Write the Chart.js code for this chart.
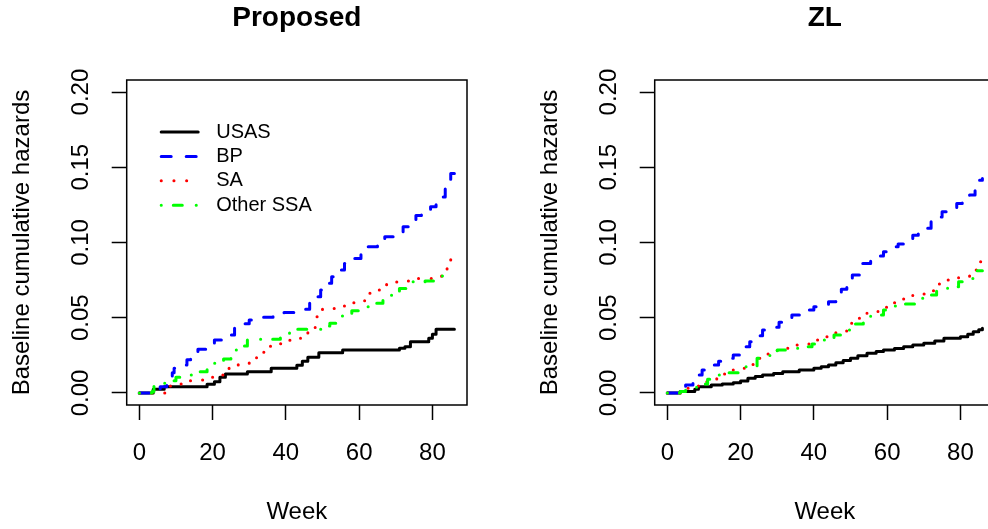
<!DOCTYPE html>
<html>
<head>
<meta charset="utf-8">
<script src="https://cdn.jsdelivr.net/npm/chart.js@4.4.1/dist/chart.umd.min.js"></script>
<style>
  html, body { margin: 0; padding: 0; background: #fff; overflow: hidden; }
  .panel { position: absolute; top: 0; width: 528px; height: 529px; }
</style>
</head>
<body>
<div class="panel" style="left:0"><canvas id="proposed" width="528" height="529"></canvas></div>
<div class="panel" style="left:528px"><canvas id="zl" width="528" height="529"></canvas></div>
<script>
// axis ticks
const weekTicks = [0, 20, 40, 60, 80];
const hazardTicks = [0, 0.05, 0.1, 0.15, 0.2];
const seriesNames = ["USAS", "BP", "SA", "Other SSA"];

// Proposed estimator: [week, cumulative hazard] at each jump
const propUSAS = [[0,0],[3.8,0.0025],[6.8,0.0042],[18.5,0.0058],[20.5,0.0075],[22,0.0104],[23.5,0.0126],
  [29.5,0.0141],[36,0.0164],[43,0.0185],[44.5,0.021],[46,0.0237],[49,0.0268],[55.5,0.0286],[71,0.0297],
  [72.5,0.0307],[74,0.034],[79,0.0363],[80,0.039],[81,0.0423],[86,0.0423]];
const propBP = [[0,0],[4,0.0025],[5.7,0.0042],[7.5,0.0068],[8,0.01],[9,0.0135],[9.5,0.0164],[11.5,0.0186],
  [13,0.022],[14,0.0252],[16,0.029],[19,0.0307],[20.5,0.0352],[23,0.037],[24.5,0.0385],[26,0.0436],[28,0.046],
  [30,0.0485],[32,0.0503],[36.5,0.0518],[39.5,0.0535],[42.5,0.0556],[46.5,0.06],[48,0.064],[49.5,0.0684],
  [51,0.073],[52.5,0.0772],[53.5,0.0817],[56,0.0861],[58,0.0894],[60.5,0.0971],[65,0.1],[67,0.1038],[70,0.107],
  [72,0.1104],[73.5,0.1149],[75.5,0.118],[77,0.1215],[79.5,0.1237],[81,0.127],[82,0.1303],[83.5,0.137],
  [84.5,0.142],[85,0.1459],[86,0.1459]];
const propSA = [[0,0],[8.5,0.006],[11.5,0.0082],[15,0.0086],[18,0.0104],[21,0.012],[23.5,0.015],[24.5,0.0171],
  [27,0.0197],[30,0.0214],[32,0.027],[35,0.031],[38,0.0327],[41,0.035],[44,0.0378],[46,0.0432],[48,0.0507],
  [50,0.0562],[53.5,0.0578],[56,0.06],[61.5,0.0662],[65,0.0684],[67.5,0.0737],[71,0.0744],[74,0.0761],
  [82.5,0.0812],[84,0.085],[85,0.089],[86,0.089]];
const propSSA = [[0,0],[3.5,0.0009],[4,0.0064],[7,0.0082],[10,0.0104],[12,0.012],[15.5,0.0141],[18.5,0.0164],
  [20,0.0197],[23,0.0226],[25,0.0286],[27.5,0.0312],[29.5,0.0357],[38.5,0.038],[41,0.0414],[43,0.0423],
  [50.5,0.0445],[52,0.0463],[54,0.0511],[58,0.0546],[60,0.0573],[63,0.0596],[66.5,0.0618],[68,0.065],
  [69,0.0673],[71,0.0695],[73,0.0739],[78,0.0744],[81.5,0.0777],[86,0.0777]];

// ZL estimator
const zlUSAS = [[0,0],[3.5,0.001],[7.5,0.0025],[8.5,0.0042],[12,0.0053],[15,0.006],[18,0.0068],[20,0.008],
  [22,0.0098],[24,0.011],[26,0.012],[29,0.013],[31.5,0.0141],[36,0.0153],[40,0.0164],[42,0.0175],[44,0.0186],
  [46,0.02],[48,0.0215],[50,0.023],[52,0.0248],[54.5,0.0264],[57,0.0275],[59,0.0286],[62,0.0296],[64.5,0.0307],
  [67,0.0318],[70,0.033],[73,0.0345],[75.5,0.0363],[80,0.0374],[82,0.039],[83.5,0.0407],[85,0.042],[86,0.043]];
const zlBP = [[0,0],[3.5,0.002],[5,0.0053],[7,0.0075],[8.5,0.012],[9.5,0.0153],[12,0.0186],[14,0.021],
  [15.5,0.023],[18,0.0252],[20,0.028],[21.5,0.0307],[22.5,0.034],[24.5,0.038],[26,0.0418],[28.5,0.0436],
  [30.5,0.047],[32,0.0496],[34,0.0518],[36.5,0.053],[38.5,0.0551],[40,0.0573],[42,0.059],[44,0.0606],
  [46,0.0651],[47.5,0.069],[49,0.0739],[50.5,0.0784],[52.5,0.0861],[55.5,0.0883],[57.5,0.091],[59,0.0938],
  [61,0.0971],[63,0.099],[65,0.1016],[67,0.1049],[68.5,0.107],[70,0.1094],[72,0.1138],[73.5,0.117],
  [75,0.1204],[77.5,0.1226],[79,0.126],[80.5,0.1293],[82.5,0.1315],[84,0.137],[85,0.1414],[86,0.1426]];
const zlSA = [[0,0],[3.5,0.001],[5.5,0.0031],[8.5,0.0075],[11.5,0.0091],[13.5,0.012],[15,0.0126],[18,0.0153],
  [21,0.019],[24,0.023],[27,0.0259],[30,0.0297],[33,0.0319],[36,0.0325],[39.5,0.0352],[43,0.0374],[46,0.0412],
  [49,0.0463],[51.5,0.0496],[54.5,0.0536],[57.5,0.0569],[61,0.06],[64,0.0624],[67,0.0657],[70.5,0.0679],
  [73,0.0724],[76.5,0.075],[79.5,0.0772],[82.5,0.0817],[85,0.0872],[86,0.0872]];
const zlSSA = [[0,0],[3.5,0.001],[5,0.0031],[8,0.006],[11,0.0091],[13.5,0.012],[16.5,0.0135],[19.5,0.0164],
  [21.5,0.0179],[24.5,0.023],[28,0.0252],[30,0.0286],[34,0.0297],[36.5,0.0307],[39.5,0.0325],[42.5,0.0352],
  [45.5,0.0385],[48,0.0418],[50.5,0.0458],[53.5,0.0496],[55.5,0.0518],[59,0.0551],[62,0.0578],[65,0.0591],
  [67.5,0.0629],[70.5,0.0651],[73.5,0.0684],[76.5,0.0706],[79.5,0.0739],[82,0.0761],[84.5,0.0812],[86,0.0812]];

// line styles (R lty 1-4)
const lineColors = ["#000000", "#0000ff", "#ff0000", "#00ff00"];
const lineDashes = [[], [10, 15], [0.1, 12.6], [0.1, 12, 9, 13.9]];

const FONT = '"Liberation Sans", Arial, Helvetica, sans-serif';
Chart.defaults.font.family = FONT;
Chart.defaults.color = "#000";

// R style box around the plot region
const boxPlugin = {
  id: "box",
  afterDraw(chart) {
    const { ctx, chartArea: a } = chart;
    ctx.save();
    ctx.strokeStyle = "#000";
    ctx.lineWidth = 1.5;
    ctx.strokeRect(a.left, a.top, a.right - a.left, a.bottom - a.top);
    ctx.restore();
  }
};

// legend inside the plot, no frame
const insetLegend = {
  id: "insetLegend",
  afterDraw(chart, args, opts) {
    if (!opts.show) return;
    const { ctx, chartArea } = chart;
    const x0 = chartArea.left + 34.5, y0 = chartArea.top + 52;
    chart.data.datasets.forEach((ds, i) => {
      const y = y0 + i * 24.4;
      ctx.save();
      ctx.strokeStyle = ds.borderColor;
      ctx.lineWidth = ds.borderWidth;
      ctx.lineCap = "round";
      ctx.setLineDash(ds.borderDash);
      ctx.beginPath();
      ctx.moveTo(x0, y);
      ctx.lineTo(x0 + 37, y);
      ctx.stroke();
      ctx.setLineDash([]);
      ctx.fillStyle = "#000";
      ctx.font = "20px " + FONT;
      ctx.textBaseline = "middle";
      ctx.fillText(ds.label, x0 + 55, y);
      ctx.restore();
    });
  }
};

const tickGrid = { drawOnChartArea: false, drawTicks: true, tickLength: 15, tickWidth: 1.5, tickColor: "#000" };

function makePanel(id, title, series, showLegend) {
  return new Chart(document.getElementById(id), {
    type: "line",
    data: {
      datasets: series.map((pts, i) => ({
        label: seriesNames[i],
        data: pts,
        borderColor: lineColors[i],
        borderWidth: 3,
        borderDash: lineDashes[i],
        borderCapStyle: "round",
        borderJoinStyle: "round",
        stepped: "before",
        pointRadius: 0,
        fill: false,
        order: series.length - i
      }))
    },
    options: {
      responsive: false,
      animation: false,
      devicePixelRatio: 1,
      layout: { padding: { left: 0, right: 61, top: 0, bottom: 0 } },
      scales: {
        x: {
          type: "linear",
          bounds: "data",
          min: -3.44,
          max: 89.44,
          afterBuildTicks: s => { s.ticks = weekTicks.map(v => ({ value: v })); },
          afterFit: s => { s.height = 124; },
          border: { display: false },
          grid: tickGrid,
          ticks: { color: "#000", font: { size: 24 }, padding: 18.6, maxRotation: 0, autoSkip: false,
            callback: v => String(v) },
          title: { display: true, text: "Week", color: "#000", font: { size: 24 },
            padding: { top: 0, bottom: 1.9 } }
        },
        y: {
          type: "linear",
          bounds: "data",
          min: -0.008,
          max: 0.208,
          afterBuildTicks: s => { s.ticks = hazardTicks.map(v => ({ value: v })); },
          afterFit: s => { s.width = 126.7; },
          border: { display: false },
          grid: tickGrid,
          ticks: { color: "#000", font: { size: 24 }, minRotation: 90, maxRotation: 90, crossAlign: "center",
            padding: 7.3, autoSkip: false, callback: v => v.toFixed(2) },
          title: { display: true, text: "Baseline cumulative hazards", color: "#000", font: { size: 24 },
            padding: { top: 8, bottom: 0 } }
        }
      },
      plugins: {
        legend: { display: false },
        tooltip: { enabled: false },
        title: { display: true, text: title, fullSize: false, color: "#000",
          font: { size: 28, weight: "bold" }, padding: { top: 1.5, bottom: 44.9 } },
        insetLegend: { show: showLegend }
      }
    },
    plugins: [boxPlugin, insetLegend]
  });
}

makePanel("proposed", "Proposed", [propUSAS, propBP, propSA, propSSA], true);
makePanel("zl", "ZL", [zlUSAS, zlBP, zlSA, zlSSA], false);
</script>
</body>
</html>
